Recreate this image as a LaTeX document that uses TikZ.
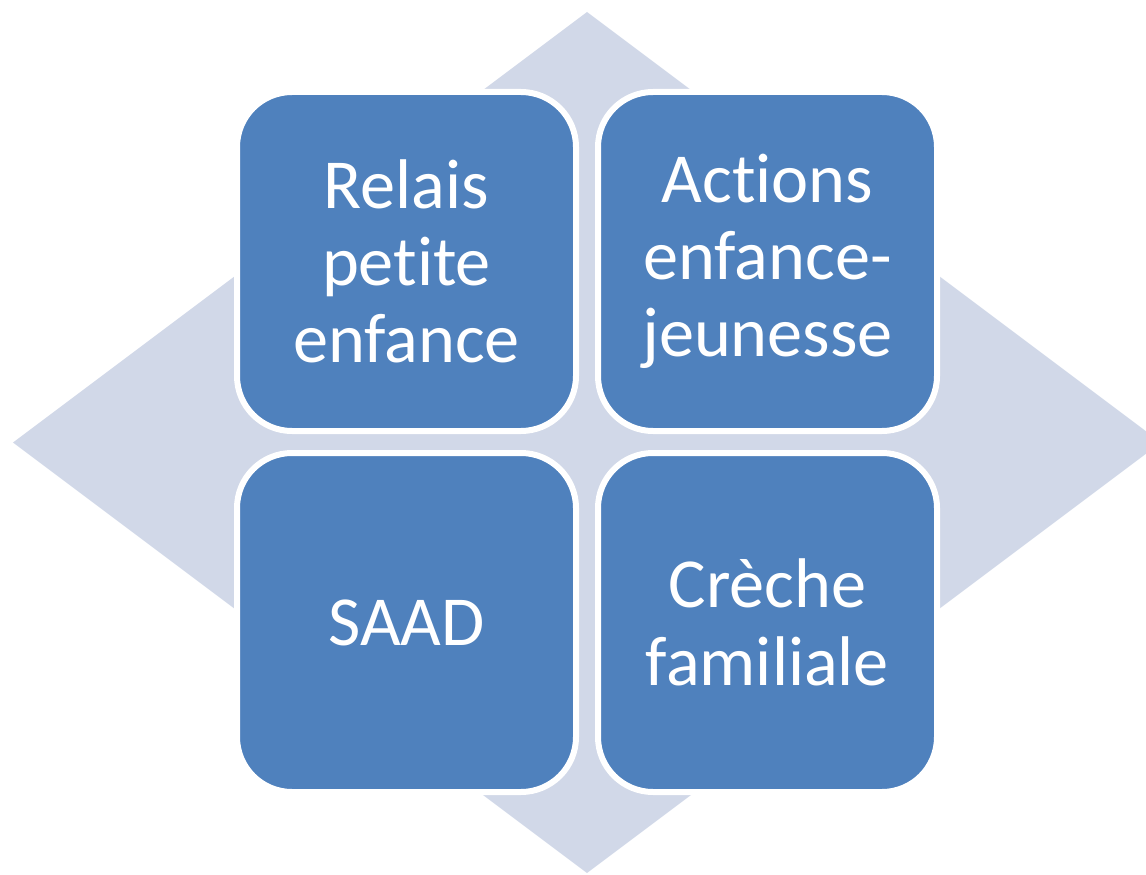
\documentclass[tikz,border=0pt]{standalone}
\usepackage{fontspec}
\setmainfont{Carlito}
\usetikzlibrary{positioning}
\definecolor{diamondgray}{HTML}{D1D8E8}
\definecolor{boxblue}{HTML}{4F81BD}
% keep t and i apart (no ti ligature)
\newcommand{\nolig}{\kern0pt}

\begin{document}
\begin{tikzpicture}[
  tile/.style={draw=white, line width=0.12cm, fill=boxblue, rounded corners=1.1cm,
    minimum width=6.78cm, minimum height=6.78cm, inner sep=0pt, align=center,
    text=white, font=\fontsize{40}{44}\selectfont},
  node distance=0.32cm
]
\useasboundingbox (0,0) rectangle (22.92,17.48);
\clip (0,0) rectangle (22.92,17.48);
% background diamond
\fill[diamondgray] (11.74,17.24) -- (23.22,8.63) -- (11.74,0.02) -- (0.26,8.63) -- cycle;
% the four tiles
\node[tile] (relais) at (8.13,12.25) {Relais\\pet\nolig ite\\enfance};
\node[tile, right=of relais] (actions) {Act\nolig ions\\enfance-\\jeunesse};
\node[tile, below=of relais] (saad) {SAAD};
\node[tile, below=of actions] (creche) {Crèche\\familiale};
\end{tikzpicture}
\end{document}
